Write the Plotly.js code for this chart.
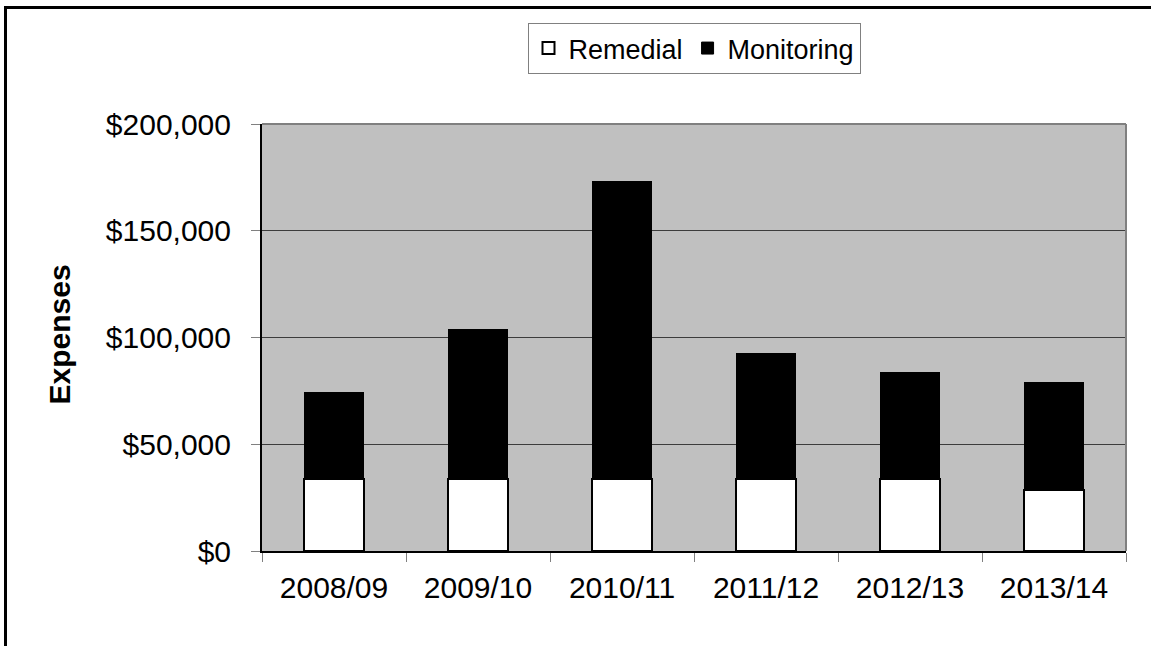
<!DOCTYPE html>
<html>
<head>
<meta charset="utf-8">
<script src="https://cdn.plot.ly/plotly-3.0.1.min.js"></script>
<style>
  html, body { margin: 0; padding: 0; background: #fff; }
  #wrap { position: relative; width: 1151px; height: 646px; overflow: hidden; }
  #chart { position: absolute; left: 0; top: 0; width: 1151px; height: 646px; }
  #frame { position: absolute; left: 4px; top: 6px; right: -10px; bottom: -10px;
           border-top: 3px solid #000; border-left: 3px solid #000; pointer-events: none; }
</style>
</head>
<body>
<div id="wrap">
  <div id="chart"></div>
  <div id="frame"></div>
</div>
<script>
const categories = ['2008/09', '2009/10', '2010/11', '2011/12', '2012/13', '2013/14'];
const remedial   = [33500, 33500, 33500, 33500, 33500, 28800];
const monitoring = [40600, 70200, 139700, 59100, 50100, 49900];
const yTicks     = [0, 50000, 100000, 150000, 200000];
const yTickText  = ['$0', '$50,000', '$100,000', '$150,000', '$200,000'];

const FONT = 'Liberation Sans, Arial, sans-serif';

const traces = [
  {
    type: 'bar', name: 'Remedial', x: categories, y: remedial,
    marker: { color: '#ffffff', line: { color: '#000000', width: 2 } },
    hoverinfo: 'x+y+name'
  },
  {
    type: 'bar', name: 'Monitoring', x: categories, y: monitoring,
    marker: { color: '#000000', line: { color: '#000000', width: 1 } },
    hoverinfo: 'x+y+name'
  }
];

const layout = {
  width: 1151, height: 646,
  margin: { l: 262, r: 25, t: 124, b: 95, pad: 0 },
  paper_bgcolor: '#ffffff',
  plot_bgcolor: '#c0c0c0',
  font: { family: FONT, color: '#000000', size: 26 },
  barmode: 'stack',
  bargap: 0.59,
  showlegend: true,
  legend: {
    orientation: 'h', traceorder: 'normal',
    x: 0.5, xanchor: 'center', y: 1.2365, yanchor: 'top',
    bgcolor: '#ffffff', bordercolor: '#808080', borderwidth: 1,
    font: { family: FONT, size: 27, color: '#000' },
    itemwidth: 30
  },
  xaxis: {
    type: 'category',
    tickson: 'boundaries',
    ticks: 'outside', ticklen: 9, tickwidth: 1, tickcolor: '#808080',
    showline: true, linecolor: '#000000', linewidth: 2,
    showgrid: false, zeroline: false,
    tickfont: { family: FONT, size: 30, color: '#000' },
    ticklabelstandoff: 9,
    fixedrange: true
  },
  yaxis: {
    range: [0, 200000],
    tickmode: 'array', tickvals: yTicks, ticktext: yTickText,
    ticks: 'outside', ticklen: 9, tickwidth: 1, tickcolor: '#808080',
    showline: true, linecolor: '#000000', linewidth: 2,
    showgrid: true, gridcolor: '#3c3c3c', gridwidth: 1,
    zeroline: false,
    tickfont: { family: FONT, size: 30, color: '#000' },
    ticklabelstandoff: 14,
    fixedrange: true
  },
  annotations: [
    {
      text: '<b>Expenses</b>', textangle: -90,
      xref: 'paper', yref: 'paper', x: -0.2338, y: 0.507,
      xanchor: 'center', yanchor: 'middle', showarrow: false,
      font: { family: FONT, size: 30, color: '#000' }
    }
  ],
  shapes: [
    { type: 'line', xref: 'paper', yref: 'paper', x0: 0, x1: 1, y0: 1, y1: 1,
      line: { color: '#808080', width: 2 } },
    { type: 'line', xref: 'paper', yref: 'paper', x0: 1, x1: 1, y0: 0, y1: 1,
      line: { color: '#808080', width: 2 } }
  ]
};

Plotly.newPlot('chart', traces, layout, { displayModeBar: false, staticPlot: true });
</script>
</body>
</html>
